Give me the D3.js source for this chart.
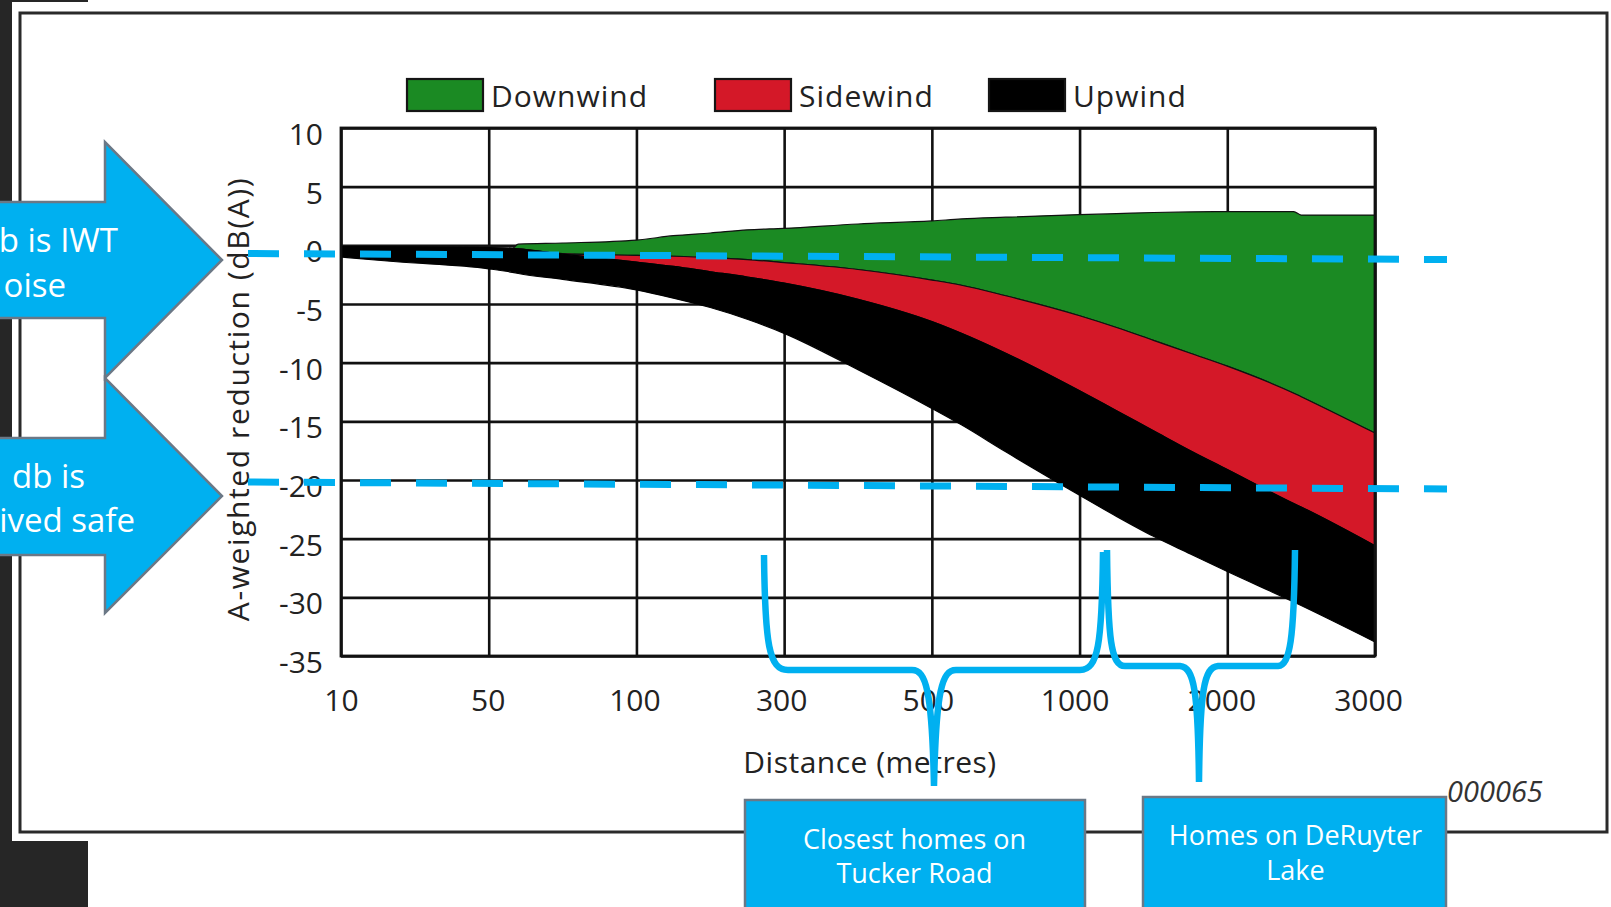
<!DOCTYPE html>
<html><head><meta charset="utf-8">
<script src="https://cdn.jsdelivr.net/npm/d3@7"></script>
<style>
html,body{margin:0;padding:0;background:#fff;overflow:hidden;}
svg{display:block;}
</style></head><body>
<svg id="chart" width="1611" height="907"></svg>
<script>
// ---------------- data ----------------
const distances    = [10, 25, 50, 58, 60, 75, 100, 150, 200, 250, 300, 400, 500, 600, 750, 1000, 1250, 1500, 1750, 2000, 2450, 2500, 3000];
const downwindHigh = [-0.1, -0.12, -0.2, -0.26, 0.1, 0.2, 0.45, 0.82, 1.05, 1.32, 1.45, 1.82, 2.08, 2.25, 2.4, 2.62, 2.7, 2.8, 2.85, 2.87, 2.87, 2.58, 2.58];
const sidewindHigh = [-0.1, -0.12, -0.2, -0.26, -0.3, -0.7, -0.86, -0.93, -1.04, -1.21, -1.47, -2.06, -2.96, -3.4, -4.3, -6.0, -7.0, -8.1, -9.2, -10.3, -12.6, -12.9, -16.0];
const upwindHigh   = [-0.1, -0.12, -0.2, -0.26, -0.3, -0.75, -1.43, -1.8, -2.25, -2.7, -3.22, -4.6, -6.5, -7.5, -9.2, -12.4, -14.1, -15.8, -17.5, -19.1, -22.0, -22.3, -25.6];
const upwindLow    = [-1.0, -1.4, -2.0, -2.3, -2.4, -2.9, -3.8, -4.5, -5.3, -6.3, -7.5, -10.6, -13.9, -15.3, -17.6, -21.3, -23.1, -24.8, -26.3, -27.8, -30.4, -30.7, -33.8];

const xTicks = [10, 50, 100, 300, 500, 1000, 2000, 3000];
const yTicks = [10, 5, 0, -5, -10, -15, -20, -25, -30, -35];
const seriesNames  = ["Downwind", "Sidewind", "Upwind"];
const seriesColors = ["#1b8a23", "#d41828", "#000000"];
const yTitle = "A-weighted reduction (dB(A))";
const xTitle = "Distance (metres)";
const figureCode = "000065";
const arrowTexts = [["b is IWT", "oise"], ["db is", "ived safe"]];
const boxTexts = [["Closest homes on", "Tucker Road"], ["Homes on DeRuyter", "Lake"]];

// ---------------- layout ----------------
const W = 1611, H = 907;
const P = {left: 341, right: 1375, top: 128, bottom: 656};
const FONT = "'Open Sans', 'Noto Sans', sans-serif";
const BLUE = "#00b0f0", SLATE = "#6b7886";
const legendX = [407, 715, 989];

const svg = d3.select("#chart");

// slide background pieces
svg.append("rect").attr("x", 0).attr("y", 0).attr("width", 88).attr("height", H).attr("fill", "#262626");
svg.append("rect").attr("x", 12).attr("y", 2).attr("width", W - 12).attr("height", 839).attr("fill", "#fff");
svg.append("rect").attr("x", 20).attr("y", 13).attr("width", 1587).attr("height", 819)
  .attr("fill", "none").attr("stroke", "#2a2a2a").attr("stroke-width", 3);

// scales
const x = d3.scaleLinear()
  .domain(xTicks)
  .range(xTicks.map((d, i) => P.left + i * (P.right - P.left) / (xTicks.length - 1)));
const y = d3.scaleLinear().domain([-35, 10]).range([P.bottom, P.top]);

const g = svg.append("g");

// grid + tick labels
const xAxis = g.append("g").attr("transform", `translate(0,${P.bottom})`)
  .call(d3.axisBottom(x).tickValues(xTicks).tickSize(-(P.bottom - P.top)).tickPadding(34).tickFormat(d => String(d)));
const yAxis = g.append("g").attr("transform", `translate(${P.left},0)`)
  .call(d3.axisLeft(y).tickValues(yTicks).tickSize(-(P.right - P.left)).tickPadding(18).tickFormat(d => String(d)));
[xAxis, yAxis].forEach(a => {
  a.select(".domain").remove();
  a.selectAll("line").attr("stroke", "#111").attr("stroke-width", 2.6);
  a.selectAll("text").attr("font-family", FONT).attr("font-size", 30).attr("fill", "#222");
});
xAxis.selectAll("text").attr("dx", (d, i) => -i);
yAxis.selectAll("text").attr("dy", "0.55em");

// bands
const rows = distances.map((d, i) => ({d, dh: downwindHigh[i], sh: sidewindHigh[i], uh: upwindHigh[i], ul: upwindLow[i]}));
const bands = [
  {top: r => r.dh, bot: r => r.sh, color: seriesColors[0], stroke: "#111"},
  {top: r => r.sh, bot: r => r.uh, color: seriesColors[1], stroke: "#111"},
  {top: r => r.uh, bot: r => r.ul, color: seriesColors[2], stroke: "#000"}
];
bands.forEach(b => {
  g.append("path").datum(rows)
    .attr("d", d3.area().x(r => x(r.d)).y0(r => y(b.bot(r))).y1(r => y(b.top(r))).curve(d3.curveMonotoneX))
    .attr("fill", b.color).attr("stroke", b.stroke).attr("stroke-width", 1.2);
});

// frame
g.append("rect").attr("x", P.left).attr("y", P.top).attr("width", P.right - P.left).attr("height", P.bottom - P.top)
  .attr("fill", "none").attr("stroke", "#111").attr("stroke-width", 2.8);

// legend
seriesNames.forEach((name, i) => {
  const lx = legendX[i];
  g.append("rect").attr("x", lx).attr("y", 79).attr("width", 76).attr("height", 32)
    .attr("fill", seriesColors[i]).attr("stroke", "#151515").attr("stroke-width", 2.2);
  g.append("text").attr("x", lx + 84).attr("y", 106.5).text(name)
    .attr("font-family", FONT).attr("font-size", 30).attr("fill", "#222").style("letter-spacing", "1px");
});

// axis titles
g.append("text").attr("transform", "translate(249,399) rotate(-90)").attr("text-anchor", "middle")
  .attr("font-family", FONT).attr("font-size", 30).attr("fill", "#222").style("letter-spacing", "1.6px").text(yTitle);
g.append("text").attr("x", 870).attr("y", 773).attr("text-anchor", "middle")
  .attr("font-family", FONT).attr("font-size", 30).attr("fill", "#222").style("letter-spacing", "0.5px").text(xTitle);
svg.append("text").attr("x", 1447).attr("y", 802).attr("font-family", FONT).attr("font-size", 29)
  .attr("font-style", "italic").attr("fill", "#333").text(figureCode);

// ---------------- annotations ----------------
const ann = svg.append("g");
// dashed reference lines
[[[248, 253.5], [1447, 259.5]], [[248, 482], [1447, 489]]].forEach(p => {
  ann.append("line").attr("x1", p[0][0]).attr("y1", p[0][1]).attr("x2", p[1][0]).attr("y2", p[1][1])
    .attr("stroke", BLUE).attr("stroke-width", 7).attr("stroke-dasharray", "31 25");
});

// arrows
const arrows = [
  {bt: 202, bb: 318, ht: 142, hb: 378, tip: [222, 260]},
  {bt: 438, bb: 555, ht: 378, hb: 613, tip: [222, 496]}
];
arrows.forEach(a => {
  const p = d3.path();
  p.moveTo(-10, a.bt); p.lineTo(105, a.bt); p.lineTo(105, a.ht); p.lineTo(a.tip[0], a.tip[1]);
  p.lineTo(105, a.hb); p.lineTo(105, a.bb); p.lineTo(-10, a.bb); p.closePath();
  ann.append("path").attr("d", p.toString()).attr("fill", BLUE).attr("stroke", SLATE).attr("stroke-width", 2.5);
});
const arrowTextPos = [[[118, 252], [66, 297]], [[85, 488], [135, 532]]];
arrowTexts.forEach((lines, i) => lines.forEach((s, j) => {
  ann.append("text").attr("x", arrowTextPos[i][j][0]).attr("y", arrowTextPos[i][j][1]).attr("text-anchor", "end")
    .attr("font-family", FONT).attr("font-size", 33).attr("fill", "#fff").text(s);
}));

// braces
const braces = [
  "M764,555 C765,645 769,670 788,670 L912,670 C926,670 932,690 934,786 C936,690 942,670 956,670 L1080,670 C1098,670 1102,645 1103,552",
  "M1107,550 C1108,640 1111,666 1125,666 L1180,666 C1194,667 1198,690 1199,782 C1200,690 1204,667 1218,666 L1278,666 C1290,665 1294,640 1295,550"
];
braces.forEach(d => ann.append("path").attr("d", d).attr("fill", "none").attr("stroke", BLUE).attr("stroke-width", 6.5));

// boxes
const boxes = [{x: 745, y: 800, w: 340, cx: 914.5, b: [849, 883]}, {x: 1143, y: 797, w: 303, cx: 1295.5, b: [845, 880]}];
boxes.forEach((bx, i) => {
  ann.append("rect").attr("x", bx.x).attr("y", bx.y).attr("width", bx.w).attr("height", 130)
    .attr("fill", BLUE).attr("stroke", SLATE).attr("stroke-width", 2.5);
  boxTexts[i].forEach((s, j) => ann.append("text").attr("x", bx.cx).attr("y", bx.b[j]).attr("text-anchor", "middle")
    .attr("font-family", FONT).attr("font-size", 27).attr("fill", "#fff").text(s));
});
</script>
</body></html>
